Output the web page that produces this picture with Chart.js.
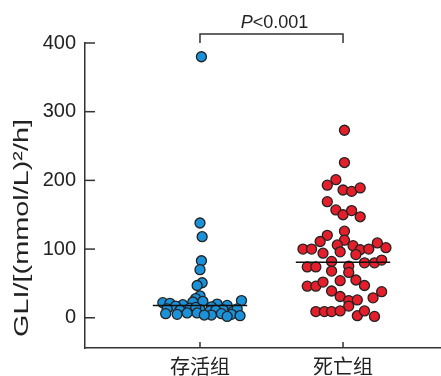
<!DOCTYPE html>
<html>
<head>
<meta charset="utf-8">
<script src="https://cdn.jsdelivr.net/npm/chart.js@4"></script>
<style>
  body { margin: 0; background: #fff; }
</style>
</head>
<body>
<canvas id="chart" width="441" height="376"></canvas>
<script>
// Data
const categories = ['存活组', '死亡组'];
const yTicks = [0, 100, 200, 300, 400];
const yTitle = 'GLI/[(mmol/L)²/h]';

// survivors: GLI values and horizontal jitter (in category units)
const aliveValues = [380, 138, 118, 83, 70, 51, 47, 32, 28,
  22, 21, 19, 23, 24, 20, 18, 25, 17, 16,
  13, 11, 14, 12, 10, 12, 9, 13, 15, 11,
  6, 5, 7, 4, 6, 5, 3, 7, 4, 2];
const aliveJitter = [0.01, 0, 0.015, 0.01, 0, 0.015, -0.02, 0, -0.03,
  -0.26, -0.21, -0.12, -0.05, 0.02, 0.12, 0.19, 0.29, -0.17, 0.08,
  -0.23, -0.14, -0.07, 0, 0.07, 0.16, 0.23, 0.26, -0.03, 0.11,
  -0.24, -0.16, -0.09, 0.08, 0.15, 0.22, 0.28, -0.02, 0.03, 0.19];

// deaths
const deadValues = [273, 226, 201, 193, 186, 184, 189,
  169, 157, 150, 156, 147,
  126, 120, 113, 111, 106, 105,
  100, 100, 94, 96, 99, 100, 109, 102, 92,
  74, 74, 82, 68, 75, 66, 80, 80, 84,
  54, 46, 46, 52, 39, 55, 47,
  31, 25, 26, 29, 38, 17,
  9, 9, 9, 10, 3, 10, 2];
const deadJitter = [0.01, 0.01, -0.05, -0.11, 0, 0.06, 0.12,
  -0.11, -0.05, 0, 0.06, 0.12,
  0.01, -0.11, 0.01, -0.16, -0.04, 0.07,
  -0.28, -0.22, -0.14, -0.02, 0.12, 0.18, 0.24, 0.3, 0.09,
  -0.25, -0.19, -0.08, -0.08, 0.04, 0.04, 0.15, 0.22, 0.27,
  -0.02, -0.25, -0.19, -0.14, -0.08, 0.09, 0.15,
  -0.02, 0.04, 0.1, 0.21, 0.27, 0.04,
  -0.19, -0.13, -0.08, -0.02, 0.1, 0.15, 0.22];

const medians = [18, 81];
const pText = 'P<0.001';

// Referensi
const ctx = document.getElementById('chart').getContext('2d');
const axisColor = '#333';
const fam = "'Liberation Sans', Arial, 'Noto Sans CJK SC', sans-serif";
Chart.defaults.font.family = fam;
Chart.defaults.color = '#222';

function toPoints(values, jitter, pos) {
  return values.map((v, i) => ({ x: pos + jitter[i], y: v }));
}

// extra drawing: inner ticks, medians, bracket, y title
const extras = {
  id: 'extras',
  afterDatasetsDraw(chart) {
    const { ctx, scales: { x, y }, chartArea } = chart;
    ctx.save();
    ctx.strokeStyle = axisColor;
    ctx.lineWidth = 1.5;
    // y ticks pointing inward
    yTicks.forEach(v => {
      const py = y.getPixelForValue(v);
      ctx.beginPath();
      ctx.moveTo(chartArea.left, py);
      ctx.lineTo(chartArea.left + 10, py);
      ctx.stroke();
    });
    // x ticks
    [1, 2].forEach(v => {
      const px = x.getPixelForValue(v);
      ctx.beginPath();
      ctx.moveTo(px, chartArea.bottom);
      ctx.lineTo(px, chartArea.bottom - 6);
      ctx.stroke();
    });
    // medians
    ctx.strokeStyle = '#111';
    medians.forEach((m, i) => {
      const py = y.getPixelForValue(m);
      ctx.beginPath();
      ctx.moveTo(x.getPixelForValue(i + 1 - 0.33), py);
      ctx.lineTo(x.getPixelForValue(i + 1 + 0.33), py);
      ctx.stroke();
    });
    // significance bracket
    const x1 = x.getPixelForValue(1), x2 = x.getPixelForValue(2);
    const top = chartArea.top - 9;
    ctx.strokeStyle = axisColor;
    ctx.beginPath();
    ctx.moveTo(x1, chartArea.top);
    ctx.lineTo(x1, top);
    ctx.lineTo(x2, top);
    ctx.lineTo(x2, chartArea.top);
    ctx.stroke();
    // P text, italic P
    ctx.fillStyle = '#222';
    ctx.textBaseline = 'alphabetic';
    ctx.font = 'italic 18px ' + fam;
    const wP = ctx.measureText('P').width;
    ctx.font = '18px ' + fam;
    const rest = pText.slice(1);
    const wR = ctx.measureText(rest).width;
    const sx = (x1 + x2) / 2 - (wP + wR) / 2 + 3;
    ctx.font = 'italic 18px ' + fam;
    ctx.fillText('P', sx, 28);
    ctx.font = '18px ' + fam;
    ctx.fillText(rest, sx + wP, 28);

    // y title, rotated
    ctx.font = '21px ' + fam;
    const tw = ctx.measureText(yTitle).width;
    ctx.translate(22, 228);
    ctx.rotate(-Math.PI / 2);
    ctx.scale(218 / tw, 1);
    ctx.textAlign = 'center';
    ctx.textBaseline = 'middle';
    ctx.fillText(yTitle, 0, 0);
    ctx.restore();
  }
};

new Chart(ctx, {
  type: 'scatter',
  data: {
    datasets: [{
      label: categories[0],
      data: toPoints(aliveValues, aliveJitter, 1),
      backgroundColor: '#1b91d9',
      borderColor: '#222',
      borderWidth: 1.3,
      pointRadius: 5
    }, {
      label: categories[1],
      data: toPoints(deadValues, deadJitter, 2),
      backgroundColor: '#e41f2b',
      borderColor: '#222',
      borderWidth: 1.3,
      pointRadius: 5
    }]
  },
  options: {
    responsive: false,
    animation: false,
    layout: { autoPadding: false, padding: { top: 43, right: 0, left: 0, bottom: 0 } },
    plugins: { legend: { display: false }, tooltip: { enabled: false } },
    scales: {
      x: {
        type: 'linear',
        min: 0.196,
        max: 2.685,
        afterBuildTicks: s => { s.ticks = [{ value: 1 }, { value: 2 }]; },
        afterFit: s => { s.height = 28; },
        ticks: {
          callback: v => categories[v - 1],
          font: { size: 20 },
          padding: 0,
          maxRotation: 0
        },
        grid: { display: false },
        border: { display: true, color: axisColor, width: 1.5 }
      },
      y: {
        min: -44,
        max: 400,
        afterBuildTicks: s => { s.ticks = yTicks.map(v => ({ value: v })); },
        afterFit: s => { s.width = 85; },
        ticks: { font: { size: 20 }, padding: 1 },
        grid: { display: false },
        border: { display: true, color: axisColor, width: 1.5 }
      }
    }
  },
  plugins: [extras]
});
</script>
</body>
</html>
